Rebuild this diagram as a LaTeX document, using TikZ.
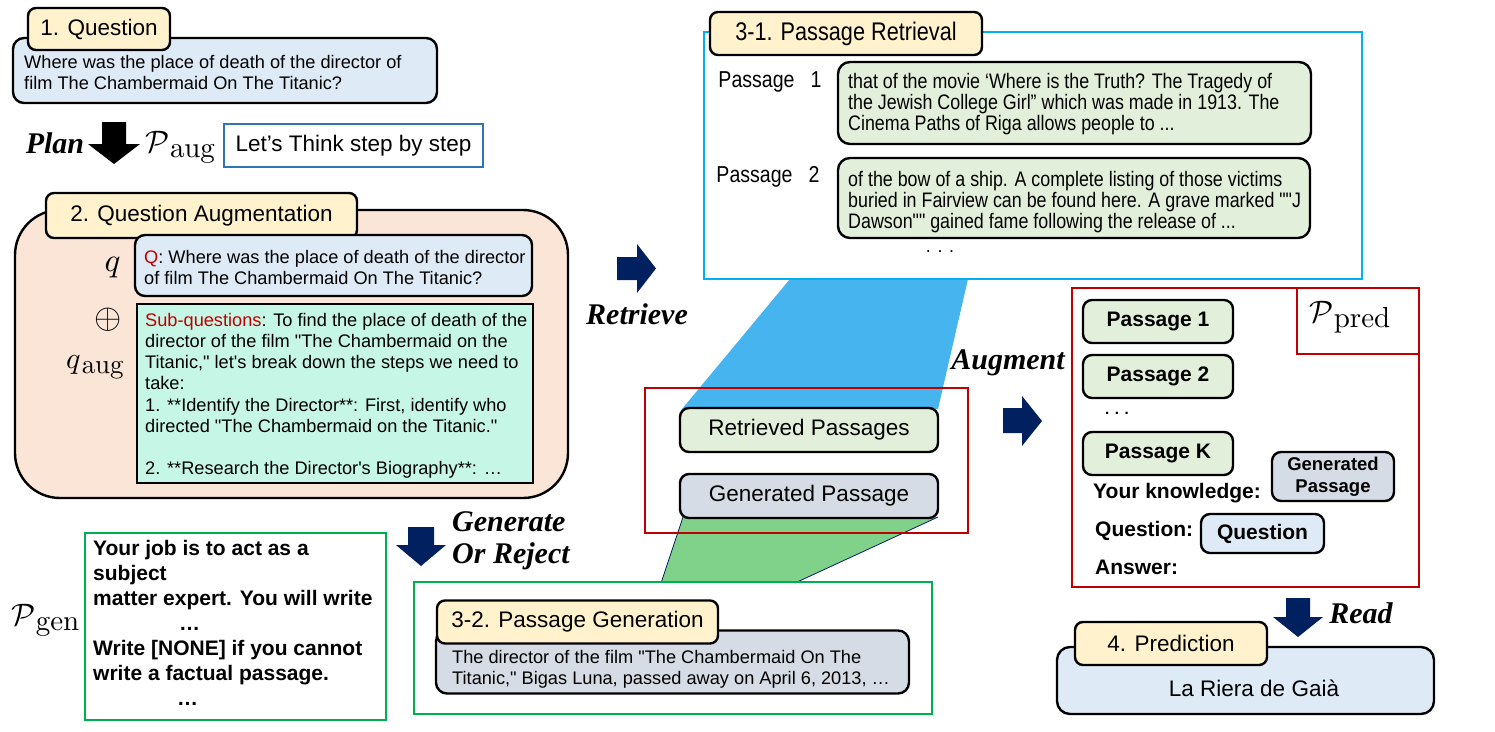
\documentclass[tikz,border=0pt]{standalone}
\usepackage[no-math]{fontspec}
\DeclareFontShape{OMS}{cmsy}{m}{n}{<->cmsy10}{}
\DeclareFontShape{OML}{cmm}{m}{it}{<->cmmi10}{}
\DeclareFontShape{OT1}{cmr}{m}{n}{<->cmr10}{}
\DeclareFontShape{OMX}{cmex}{m}{n}{<->cmex10}{}
\setmainfont{Liberation Sans}[Ligatures=TeXOff]
\newfontfamily\narrowfont{Liberation Sans}[FakeStretch=0.85,Ligatures=TeXOff]
\newfontfamily\actfont{Liberation Serif}[Ligatures=TeXOff]
\newcommand{\promptsym}[1]{$\mathcal{P}$\kern0.5pt\raisebox{-5pt}{\fontsize{29}{31}\selectfont$\mathrm{#1}$}}
\definecolor{tabY}{HTML}{FFF2CC}
\definecolor{qBlue}{HTML}{DEEBF7}
\definecolor{peach}{HTML}{FBE5D6}
\definecolor{mint}{HTML}{C6F6E6}
\definecolor{lgreen}{HTML}{E2EFDA}
\definecolor{gblue}{HTML}{D6DCE5}
\definecolor{cyanB}{HTML}{00B0F0}
\definecolor{greenB}{HTML}{00B050}
\definecolor{redB}{HTML}{C00000}
\definecolor{navy}{HTML}{002060}
\definecolor{stepB}{HTML}{2E75B6}
\definecolor{polyBlue}{HTML}{45B4EF}
\definecolor{polyGreen}{HTML}{80D18A}
\begin{document}
\begin{tikzpicture}[x=1pt,y=-1pt,
  rbox/.style={draw=black, line width=2.4pt, rounded corners=11pt, inner sep=0pt},
  tabbox/.style={rbox, fill=tabY, rounded corners=8pt},
  frame/.style={line width=2.4pt, inner sep=0pt},
  txt/.style={inner sep=0pt, align=left, anchor=north west},
  act/.style={inner sep=0pt, font=\actfont\bfseries\itshape\fontsize{30}{34}\selectfont},
  mathlbl/.style={inner sep=0pt, anchor=base west, font=\fontsize{31}{33}\selectfont},
  body/.style={txt, font=\fontsize{18.2}{21.2}\selectfont},
  hdr/.style={font=\fontsize{22.5}{26}\selectfont},
  narrowtxt/.style={txt, font=\narrowfont\fontsize{21}{21.2}\selectfont},
  predtxt/.style={inner sep=0pt, font=\bfseries\fontsize{21}{24}\selectfont}
]
\useasboundingbox (0,0) rectangle (1495,731);

% ---------- funnels ----------
\fill[polyBlue] (790,279) -- (968,279) -- (938,409) -- (682,409) -- cycle;
\fill[polyGreen] (683,517) -- (938,517) -- (795,583) -- (661,583) -- cycle;
\draw[navy, line width=0.8pt] (683,517) -- (661,583) (938,517) -- (795,583);

% ---------- 1. Question ----------
\node[rbox, fill=qBlue, minimum width=424pt, minimum height=65pt] (qbox) at (225,70.5) {};
\node[tabbox, minimum width=142pt, minimum height=42pt, hdr] (qtab) at (99,29) {1. Question};
\node[body] (qtext) at (24,55) {Where was the place of death of the director of\\film The Chambermaid On The Titanic?};

% ---------- Plan ----------
\node[act] (plan) at (55,143) {Plan};
\fill[black] (102,122) -- (126,122) -- (126,144) -- (140,144) -- (114,164) -- (88,144) -- (102,144) -- cycle;
\node[mathlbl] (paug) at (145,152) {\promptsym{aug}};
\node[draw=stepB, line width=2pt, minimum width=259pt, minimum height=43pt, inner sep=0pt,
      font=\fontsize{22.5}{26}\selectfont] (think) at (353.5,145.5) {Let’s Think step by step};

% ---------- 2. Question Augmentation ----------
\node[rbox, fill=peach, rounded corners=45pt, minimum width=553pt, minimum height=288pt] (aug) at (291.5,354) {};
\node[tabbox, minimum width=311pt, minimum height=45pt, hdr] (augtab) at (201.5,215.5) {2. Question Augmentation};
\node[inner sep=0pt, anchor=base, font=\fontsize{33}{36}\selectfont] (ql) at (112.5,271) {$q$};
\node[rbox, fill=qBlue, rounded corners=10pt, minimum width=397pt, minimum height=61pt] (qq) at (333.5,265.5) {};
\node[body] (qqtext) at (144,250) {{\color{redB}Q}: Where was the place of death of the director\\of film The Chambermaid On The Titanic?};
\node[inner sep=0pt, font=\fontsize{35}{38}\selectfont] (oplus) at (108,320) {$\oplus$};
\node[inner sep=0pt, anchor=base west, font=\fontsize{30}{32}\selectfont] (qaugl) at (66,368) {$q$\kern1pt\raisebox{-5pt}{\fontsize{27}{29}\selectfont$\mathrm{aug}$}};
\node[draw=black, frame, fill=mint, minimum width=396pt, minimum height=179pt] (sub) at (335,393.5) {};
\node[body] (subtext) at (145,313) {{\color{redB}Sub-questions}: To find the place of death of the\\
director of the film "The Chambermaid on the\\
Titanic," let's break down the steps we need to\\
take:\\
1. **Identify the Director**: First, identify who\\
directed "The Chambermaid on the Titanic."\\[21.2pt]
2. **Research the Director's Biography**: …};

% ---------- P_gen ----------
\node[mathlbl] (pgen) at (11,625) {\promptsym{gen}};
\node[draw=greenB, frame, line width=2pt, minimum width=301pt, minimum height=187pt] (genbox) at (235.5,626.5) {};
\node[txt, font=\bfseries\fontsize{21}{25}\selectfont] (gentext) at (93,540) {Your job is to act as a\\
subject\\
matter expert. You will write\\
\hspace*{86pt}…\\
Write [NONE] if you cannot\\
write a factual passage.\\
\hspace*{84pt}…};

% ---------- Generate or reject ----------
\fill[navy] (408,527) -- (434,527) -- (434,545) -- (446,545) -- (421,566) -- (396,545) -- (408,545) -- cycle;
\node[act, anchor=west] (gen1) at (452,522) {Generate};
\node[act, anchor=west] (gen2) at (452,556) {Or Reject};

% ---------- Retrieve ----------
\fill[navy] (617,257) -- (637,257) -- (637,244) -- (656,268.5) -- (637,293) -- (637,280) -- (617,280) -- cycle;
\node[act] (retrieve) at (637,314) {Retrieve};

% ---------- 3-1 Passage Retrieval ----------
\node[draw=cyanB, frame, minimum width=658pt, minimum height=247pt] (retbox) at (1033,155.5) {};
\node[tabbox, minimum width=272pt, minimum height=43pt, font=\narrowfont\fontsize{25.5}{28}\selectfont] (rettab) at (846,33.5) {3-1. Passage Retrieval};
\node[inner sep=0pt, font=\narrowfont\fontsize{23}{26}\selectfont] (p1l) at (770,82) {Passage\hspace{0.7em}1};
\node[inner sep=0pt, font=\narrowfont\fontsize{23}{26}\selectfont] (p2l) at (768,177) {Passage\hspace{0.7em}2};
\node[rbox, fill=lgreen, rounded corners=12pt, minimum width=473pt, minimum height=82pt] (p1) at (1074.5,103) {};
\node[narrowtxt] (p1t) at (848,73) {that of the movie ‘Where is the Truth? The Tragedy of\\
the Jewish College Girl” which was made in 1913. The\\
Cinema Paths of Riga allows people to ...};
\node[rbox, fill=lgreen, rounded corners=12pt, minimum width=472pt, minimum height=80pt] (p2) at (1074,198) {};
\node[narrowtxt] (p2t) at (848,171) {of the bow of a ship. A complete listing of those victims\\
buried in Fairview can be found here. A grave marked ""J\\
Dawson"" gained fame following the release of ...};
\node[inner sep=0pt, font=\fontsize{18}{20}\selectfont] (rdots) at (940,252) {. . .};

% ---------- middle red box ----------
\node[draw=redB, frame, minimum width=323pt, minimum height=145pt] (mid) at (806.5,460.5) {};
\node[rbox, fill=lgreen, rounded corners=9pt, minimum width=258pt, minimum height=44pt, font=\fontsize{22.5}{26}\selectfont] (retp) at (809,430) {Retrieved Passages};
\node[rbox, fill=gblue, rounded corners=9pt, minimum width=258pt, minimum height=44pt, font=\fontsize{22.5}{26}\selectfont] (genp) at (809,496) {Generated Passage};

% ---------- 3-2 Passage Generation ----------
\node[draw=greenB, frame, minimum width=518pt, minimum height=132pt] (pgbox) at (673,648) {};
\node[rbox, fill=gblue, rounded corners=11pt, minimum width=473pt, minimum height=63pt] (pgc) at (672.5,662) {};
\node[tabbox, minimum width=281pt, minimum height=43pt, hdr] (pgtab) at (577.5,622) {3-2. Passage Generation};
\node[body] (pgtext) at (452,650) {The director of the film "The Chambermaid On The\\Titanic," Bigas Luna, passed away on April 6, 2013, …};

% ---------- Augment ----------
\node[act] (augment) at (1008,363) {Augment};
\fill[navy] (1003,408) -- (1022,408) -- (1022,396) -- (1042,421) -- (1022,446) -- (1022,433) -- (1003,433) -- cycle;

% ---------- P_pred ----------
\node[draw=redB, frame, minimum width=347pt, minimum height=299pt] (pred) at (1245.5,437.5) {};
\node[draw=redB, frame, minimum width=122pt, minimum height=66pt] (ppredbox) at (1358,321) {};
\node[mathlbl] (ppred) at (1309,322) {\promptsym{pred}};
\node[rbox, fill=lgreen, rounded corners=9pt, minimum width=150pt, minimum height=43pt, predtxt] (pp1) at (1158,321.5) {Passage 1};
\node[rbox, fill=lgreen, rounded corners=9pt, minimum width=150pt, minimum height=43pt, predtxt] (pp2) at (1158,376.5) {Passage 2};
\node[inner sep=0pt, font=\bfseries\fontsize{15}{16}\selectfont] (pdots) at (1117,413) {. . .};
\node[rbox, fill=lgreen, rounded corners=9pt, minimum width=150pt, minimum height=43pt, predtxt] (ppk) at (1158,453.5) {Passage K};
\node[predtxt, anchor=west] (yk) at (1093,493) {Your knowledge:};
\node[rbox, fill=gblue, rounded corners=9pt, minimum width=122pt, minimum height=49pt, predtxt, align=center,
      font=\bfseries\fontsize{18.5}{22}\selectfont] (pgen2) at (1333,476.5) {Generated\\Passage};
\node[predtxt, anchor=west] (qlab) at (1095,531) {Question:};
\node[rbox, fill=qBlue, rounded corners=9pt, minimum width=123pt, minimum height=39pt, predtxt] (qsmall) at (1262.5,533.5) {Question};
\node[predtxt, anchor=west] (alab) at (1095,567) {Answer:};

% ---------- Read / Prediction ----------
\fill[navy] (1286,598) -- (1310,598) -- (1310,617) -- (1323,617) -- (1298,637) -- (1273,617) -- (1286,617) -- cycle;
\node[act] (read) at (1361,613) {Read};
\node[rbox, fill=qBlue, rounded corners=13pt, minimum width=377pt, minimum height=67pt] (predbox) at (1245.5,680.5) {};
\node[tabbox, minimum width=192pt, minimum height=43pt, hdr] (predtab) at (1171,643.5) {4. Prediction};
\node[inner sep=0pt, font=\fontsize{22.5}{26}\selectfont] (answer) at (1254,688) {La Riera de Gaià};
\end{tikzpicture}
\end{document}
